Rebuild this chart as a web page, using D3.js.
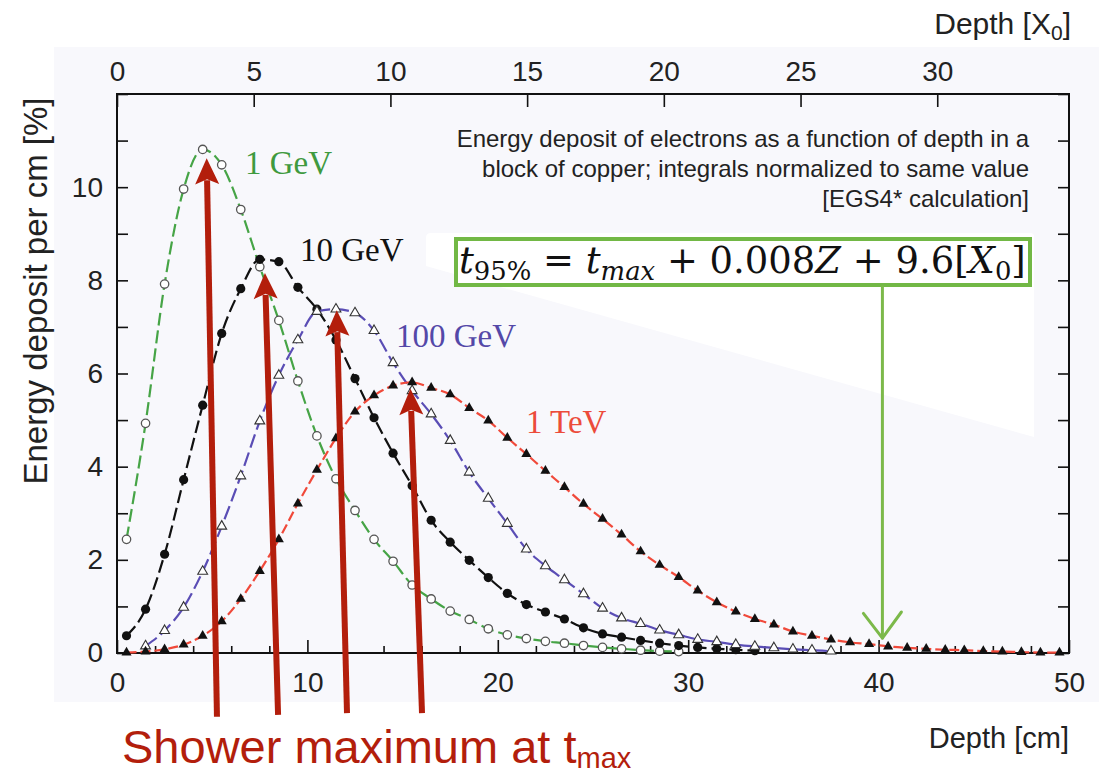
<!DOCTYPE html>
<html>
<head>
<meta charset="utf-8">
<script src="https://cdn.jsdelivr.net/npm/d3@7"></script>
<style>
  body { margin: 0; background: #fff; }
  svg { display: block; font-family: "Liberation Sans", Arial, sans-serif; }
</style>
</head>
<body>
<svg id="chart" width="1099" height="775"></svg>
<script>
// depth of each EGS4 sample point [cm]
const depthCm = [0.5, 1.5, 2.5, 3.5, 4.5, 5.5, 6.5, 7.5, 8.5, 9.5,
                 10.5, 11.5, 12.5, 13.5, 14.5, 15.5, 16.5, 17.5, 18.5, 19.5,
                 20.5, 21.5, 22.5, 23.5, 24.5, 25.5, 26.5, 27.5, 28.5, 29.5,
                 30.5, 31.5, 32.5, 33.5, 34.5, 35.5, 36.5, 37.5, 38.5, 39.5,
                 40.5, 41.5, 42.5, 43.5, 44.5, 45.5, 46.5, 47.5, 48.5, 49.5];

// energy deposit per cm [%]
const gev1 = [2.44, 4.93, 7.92, 9.96, 10.81, 10.48, 9.52, 8.29, 7.14, 5.84,
              4.66, 3.74, 3.06, 2.44, 1.97, 1.46, 1.16, 0.90, 0.72, 0.52,
              0.39, 0.31, 0.25, 0.21, 0.16, 0.12, 0.09, 0.06, 0.04, 0.03];
const gev10 = [0.37, 0.94, 2.12, 3.72, 5.32, 6.86, 7.82, 8.45, 8.40, 7.85,
               7.38, 6.72, 5.89, 5.05, 4.29, 3.59, 2.85, 2.38, 1.99, 1.62,
               1.28, 1.04, 0.88, 0.73, 0.54, 0.41, 0.34, 0.27, 0.21, 0.16,
               0.12, 0.09, 0.07, 0.05];
const gev100 = [null, 0.15, 0.48, 0.98, 1.75, 2.72, 3.80, 4.98, 5.96, 6.72,
                7.33, 7.38, 7.30, 6.92, 6.23, 5.63, 5.13, 4.56, 3.88, 3.32,
                2.78, 2.23, 1.87, 1.57, 1.27, 0.96, 0.75, 0.63, 0.49, 0.39,
                0.29, 0.24, 0.18, 0.14, 0.11, 0.08, 0.06, 0.04];
const tev1 = [0.01, 0.03, 0.08, 0.18, 0.37, 0.68, 1.16, 1.76, 2.44, 3.21,
              3.93, 4.61, 5.18, 5.53, 5.74, 5.81, 5.69, 5.55, 5.26, 4.99,
              4.62, 4.27, 3.91, 3.56, 3.20, 2.88, 2.54, 2.18, 1.89, 1.63,
              1.34, 1.09, 0.89, 0.73, 0.61, 0.46, 0.37, 0.29, 0.23, 0.19,
              0.14, 0.11, 0.09, 0.07, 0.06, 0.04, 0.03, 0.02, 0.01, 0.01];

const cmTicks = [0, 10, 20, 30, 40, 50];
const cmMinorTicks = [2, 4, 6, 8, 12, 14, 16, 18, 22, 24, 26, 28, 32, 34, 36, 38, 42, 44, 46, 48];
const x0Ticks = [0, 5, 10, 15, 20, 25, 30];
const yTicks = [0, 1, 2, 3, 4, 5, 6, 7, 8, 9, 10, 11, 12];
const yLabels = [0, 2, 4, 6, 8, 10];

const X0_CM = 1.436; // radiation length of copper

// tmax arrows: tip and foot in data units (depth cm, %)
const tmaxArrows = [
    { tip: [4.71, 10.62], foot: [5.25, -1.37] },
    { tip: [7.77, 8.16], foot: [8.46, -1.33] },
    { tip: [11.54, 7.36], foot: [12.08, -1.29] },
    { tip: [15.41, 5.67], foot: [16.02, -1.29] }
];
const t95Depth = 40.2;

const series = [
    { name: '1 GeV', values: gev1, color: '#46a446', textColor: '#3f9a3f', dash: '13,5', marker: 'openCircle', label: [6.72, 10.28] },
    { name: '10 GeV', values: gev10, color: '#111', textColor: '#111', dash: '13,5', marker: 'dot', label: [9.61, 8.42] },
    { name: '100 GeV', values: gev100, color: '#5a4db5', textColor: '#5448a8', dash: '14,5', marker: 'openTriangle', label: [14.65, 6.57] },
    { name: '1 TeV', values: tev1, color: '#f0493a', textColor: '#ec4b3a', dash: '10,4', marker: 'triangle', label: [21.48, 4.72] }
];

const svg = d3.select('#chart');

const x = d3.scaleLinear().domain([0, 50]).range([117, 1069]);
const xX0 = d3.scaleLinear().domain([0, 50 / X0_CM]).range([117, 1069]);
const y = d3.scaleLinear().domain([0, 12]).range([653, 94]);

// light panel behind the figure
svg.append('rect')
    .attr('x', 54).attr('y', 47)
    .attr('width', 1045).attr('height', 655)
    .attr('fill', '#f8f8fc');

// white sheet behind the formula
svg.append('path')
    .attr('d', 'M431,233 L1030,233 Q1034,233 1034,237 L1034,437 L426,266 L426,238 Q426,233 431,233 Z')
    .attr('fill', '#fff');

// axes
function styleAxis(g) {
    g.attr('font-family', '"Liberation Sans", Arial, sans-serif')
        .attr('font-size', 28)
        .call(g => g.select('.domain').remove());
    g.selectAll('line').attr('stroke', '#111').attr('stroke-width', 1.6);
    g.selectAll('text').attr('fill', '#222');
}

svg.append('g')
    .attr('transform', `translate(0,${y(0)})`)
    .call(d3.axisBottom(x).tickValues(cmMinorTicks).tickSizeInner(-7).tickSizeOuter(0).tickFormat(''))
    .call(styleAxis);
svg.append('g')
    .attr('transform', `translate(0,${y(0)})`)
    .call(d3.axisBottom(x).tickValues(cmTicks).tickSizeInner(-13).tickSizeOuter(0).tickPadding(19))
    .call(styleAxis);

svg.append('g')
    .attr('transform', `translate(0,${y(12)})`)
    .call(d3.axisTop(xX0).tickValues(x0Ticks).tickSizeInner(-13).tickSizeOuter(0).tickPadding(13))
    .call(styleAxis);

svg.append('g')
    .attr('transform', `translate(${x(0)},0)`)
    .call(d3.axisLeft(y).tickValues(yTicks).tickSizeInner(-11).tickSizeOuter(0).tickPadding(14)
        .tickFormat(d => yLabels.includes(d) ? d : ''))
    .call(styleAxis);

svg.append('g')
    .attr('transform', `translate(${x(50)},0)`)
    .call(d3.axisRight(y).tickValues(yTicks).tickSizeInner(-11).tickSizeOuter(0).tickFormat(''))
    .call(styleAxis);

// frame
svg.append('rect')
    .attr('x', x(0)).attr('y', y(12))
    .attr('width', x(50) - x(0)).attr('height', y(0) - y(12))
    .attr('fill', 'none').attr('stroke', '#111').attr('stroke-width', 2);

// axis titles
svg.append('text')
    .attr('transform', 'translate(47,291) rotate(-90)')
    .attr('text-anchor', 'middle')
    .attr('font-size', 33)
    .attr('fill', '#222')
    .text('Energy deposit per cm [%]');

svg.append('text')
    .attr('x', 1069).attr('y', 748)
    .attr('text-anchor', 'end')
    .attr('font-size', 29)
    .attr('fill', '#222')
    .text('Depth [cm]');

const topTitle = svg.append('text')
    .attr('x', 1071).attr('y', 34)
    .attr('text-anchor', 'end')
    .attr('font-size', 30)
    .attr('fill', '#222');
topTitle.append('tspan').text('Depth [X');
topTitle.append('tspan').attr('font-size', 21).attr('dy', 6).text('0');
topTitle.append('tspan').attr('dy', -6).text(']');

// caption
const caption = ['Energy deposit of electrons as a function of depth in a',
                 'block of copper; integrals normalized to same value',
                 '[EGS4* calculation]'];
svg.append('g')
    .selectAll('text')
    .data(caption)
    .join('text')
    .attr('x', 1029)
    .attr('y', (d, i) => 147 + i * 30)
    .attr('text-anchor', 'end')
    .attr('font-size', 24)
    .attr('fill', '#222')
    .text(d => d);

// curves
const line = d3.line()
    .defined(d => d[1] != null)
    .x(d => x(d[0]))
    .y(d => y(d[1]))
    .curve(d3.curveMonotoneX);

const markerPath = {
    openTriangle: d3.symbol(d3.symbolTriangle).size(42)(),
    triangle: d3.symbol(d3.symbolTriangle).size(44)()
};

series.forEach(s => {
    const pts = s.values.map((v, i) => [depthCm[i], v]).filter(d => d[1] != null);
    const g = svg.append('g');

    g.append('path')
        .datum(pts)
        .attr('d', line)
        .attr('fill', 'none')
        .attr('stroke', s.color)
        .attr('stroke-width', 2.2)
        .attr('stroke-dasharray', s.dash);

    if (s.marker === 'openCircle' || s.marker === 'dot') {
        g.selectAll('circle')
            .data(pts)
            .join('circle')
            .attr('cx', d => x(d[0]))
            .attr('cy', d => y(d[1]))
            .attr('r', s.marker === 'dot' ? 4.6 : 4.2)
            .attr('fill', s.marker === 'dot' ? '#111' : '#fff')
            .attr('stroke', s.marker === 'dot' ? 'none' : '#555')
            .attr('stroke-width', 1.3);
    } else {
        g.selectAll('path.mk')
            .data(pts)
            .join('path')
            .attr('class', 'mk')
            .attr('transform', d => `translate(${x(d[0])},${y(d[1])})`)
            .attr('d', markerPath[s.marker])
            .attr('fill', s.marker === 'triangle' ? '#111' : '#fff')
            .attr('stroke', s.marker === 'triangle' ? 'none' : '#333')
            .attr('stroke-width', 1.1);
    }

    svg.append('text')
        .attr('x', x(s.label[0]))
        .attr('y', y(s.label[1]))
        .attr('font-family', '"Liberation Serif", "Times New Roman", serif')
        .attr('font-size', 33)
        .attr('fill', s.textColor)
        .text(s.name);
});

// formula box
svg.append('rect')
    .attr('x', 456).attr('y', 239)
    .attr('width', 574).attr('height', 46)
    .attr('fill', '#fff')
    .attr('stroke', '#72b845')
    .attr('stroke-width', 4);

const formula = svg.append('text')
    .attr('x', 459).attr('y', 273)
    .attr('font-family', '"DejaVu Serif", "Liberation Serif", serif')
    .attr('fill', '#111');
const parts = [
    { t: 't', it: true }, { t: '95%', sub: true },
    { t: ' = ' }, { t: 't', it: true }, { t: 'max', it: true, sub: true },
    { t: ' + 0.008' }, { t: 'Z', it: true }, { t: ' + 9.6[' },
    { t: 'X', it: true }, { t: '0', sub: true }, { t: ']' }
];
function drawFormula(size) {
    formula.selectAll('tspan').remove();
    let shift = 0;
    parts.forEach(p => {
        const dy = p.sub ? 7 : 0;
        formula.append('tspan')
            .attr('font-size', p.sub ? size * 0.7 : size)
            .attr('font-style', p.it ? 'italic' : null)
            .attr('dy', dy - shift)
            .text(p.t);
        shift = dy;
    });
}
drawFormula(34);
const fw = formula.node().getComputedTextLength();
drawFormula(34 * 567 / fw);

// green arrow to t95%
const greenArrow = svg.append('g')
    .attr('stroke', '#7cb94a')
    .attr('stroke-width', 3)
    .attr('fill', 'none')
    .attr('stroke-linecap', 'round');
greenArrow.append('line')
    .attr('x1', x(t95Depth)).attr('y1', y(7.86))
    .attr('x2', x(t95Depth)).attr('y2', y(0.32));
greenArrow.append('path')
    .attr('d', `M${x(t95Depth) - 19},${y(0.85)} L${x(t95Depth)},${y(0.32)} L${x(t95Depth) + 19},${y(0.88)}`)
    .attr('stroke-linejoin', 'round');

// red tmax arrows
const red = '#b31e0c';
tmaxArrows.forEach(a => {
    const tx = x(a.tip[0]), ty = y(a.tip[1]);
    const fx = x(a.foot[0]), fy = y(a.foot[1]);
    const len = Math.hypot(tx - fx, ty - fy);
    const ux = (tx - fx) / len, uy = (ty - fy) / len;
    const head = 26, half = 12;
    const bx = tx - ux * head, by = ty - uy * head;
    svg.append('line')
        .attr('x1', fx).attr('y1', fy)
        .attr('x2', bx + ux * 4).attr('y2', by + uy * 4)
        .attr('stroke', red)
        .attr('stroke-width', 6);
    svg.append('path')
        .attr('d', `M${tx},${ty} L${bx - uy * half},${by + ux * half} L${bx + ux * 5},${by + uy * 5} L${bx + uy * half},${by - ux * half} Z`)
        .attr('fill', red);
});

const shower = svg.append('text')
    .attr('x', 122).attr('y', 763)
    .attr('font-size', 47)
    .attr('fill', red);
shower.append('tspan').text('Shower maximum at t');
shower.append('tspan').attr('font-size', 29).attr('dy', 5).text('max');
</script>
</body>
</html>
